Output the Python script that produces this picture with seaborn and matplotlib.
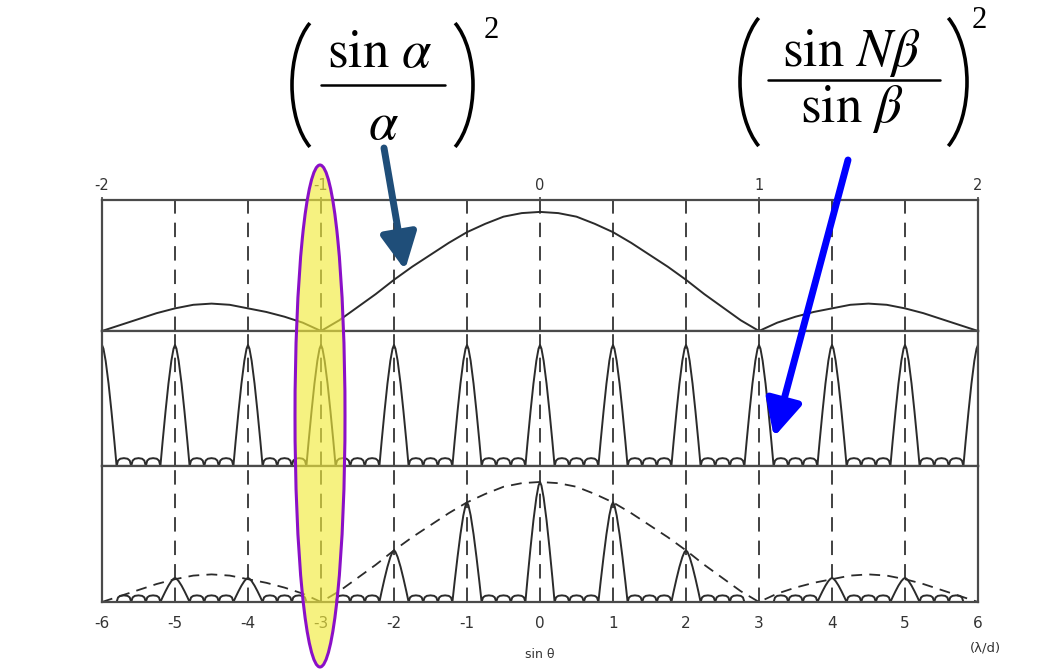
import seaborn as sns
import matplotlib.pyplot as plt
from matplotlib.patches import Ellipse, Arc
from matplotlib.lines import Line2D
from matplotlib.transforms import IdentityTransform

# principal maxima positions, units of lambda/d
orders = [-6, -5, -4, -3, -2, -1, 0, 1, 2, 3, 4, 5, 6]

# single slit envelope
env_x = [-6, -5.75, -5.5, -5.25, -5, -4.75, -4.5, -4.25, -4, -3.75, -3.5, -3.25,
         -3, -2.75, -2.5, -2.25, -2, -1.75, -1.5, -1.25, -1, -0.75, -0.5, -0.25,
         0, 0.25, 0.5, 0.75, 1, 1.25, 1.5, 1.75, 2, 2.25, 2.5, 2.75,
         3, 3.25, 3.5, 3.75, 4, 4.25, 4.5, 4.75, 5, 5.25, 5.5, 5.75, 6]
env_y = [0, 0.05, 0.1, 0.15, 0.19, 0.22, 0.23, 0.22, 0.19, 0.16, 0.12, 0.07,
         0, 0.09, 0.2, 0.31, 0.43, 0.54, 0.64, 0.74, 0.83, 0.9, 0.96, 0.99,
         1.0, 0.99, 0.96, 0.9, 0.83, 0.74, 0.64, 0.54, 0.43, 0.31, 0.2, 0.09,
         0, 0.07, 0.12, 0.16, 0.19, 0.22, 0.23, 0.22, 0.19, 0.15, 0.1, 0.05, 0]

# shape of one principal peak of the grating term
peak_dx = [-0.2, -0.17, -0.13, -0.09, -0.05, -0.02, 0,
           0.02, 0.05, 0.09, 0.13, 0.17, 0.2]
peak_h = [0, 0.2, 0.45, 0.68, 0.87, 0.97, 1.0,
          0.97, 0.87, 0.68, 0.45, 0.2, 0]

# one small secondary lobe (three between each pair of peaks)
lobe_starts = [0.2, 0.4, 0.6]
lobe_dx = [0, 0.02, 0.05, 0.1, 0.15, 0.18, 0.2]
lobe_h = [0, 0.045, 0.06, 0.065, 0.06, 0.045, 0]

# peak heights in the product panel
prod_peaks = [0, 0.2, 0.2, 0, 0.43, 0.83, 1.0, 0.83, 0.43, 0, 0.2, 0.2, 0]

top_ticks = [-6, -3, 0, 3, 6]
top_labels = ["-2", "-1", "0", "1", "2"]


def pattern(heights, lobe_scale):
    xs, ys = [], []
    for k, hk in zip(orders, heights):
        for dx, h in zip(peak_dx, peak_h):
            x = k + dx
            if -6 <= x <= 6:
                xs.append(x)
                ys.append(h * hk)
        if k < 6:
            for s in lobe_starts:
                for dx, h in zip(lobe_dx, lobe_h):
                    xs.append(k + s + dx)
                    ys.append(h * lobe_scale)
    return xs, ys


W, H = 1055, 669


def fx(x, y):
    # reference pixel (top-left origin) -> figure fraction
    return x / W, 1 - y / H


sns.set_style("white")
plt.rcParams["mathtext.fontset"] = "stix"

fig = plt.figure(figsize=(10.55, 6.69), dpi=100)
left, width = 102 / W, 876 / W
ax_top = fig.add_axes([left, 338 / H, width, 131 / H])
ax_mid = fig.add_axes([left, 203 / H, width, 135 / H])
ax_bot = fig.add_axes([left, 67 / H, width, 136 / H])

line_c = "#2b2b2b"
frame_c = "#4a4a4a"

sns.lineplot(x=env_x, y=env_y, ax=ax_top, color=line_c, lw=1.4,
             sort=False, estimator=None)

mx, my = pattern([1.0] * len(orders), 1.0)
sns.lineplot(x=mx, y=my, ax=ax_mid, color=line_c, lw=1.4,
             sort=False, estimator=None)

px, py = pattern(prod_peaks, 0.85)
sns.lineplot(x=px, y=py, ax=ax_bot, color=line_c, lw=1.4,
             sort=False, estimator=None)
sns.lineplot(x=env_x, y=env_y, ax=ax_bot, color=line_c, lw=1.3,
             sort=False, estimator=None, linestyle=(0, (6, 4)))

ylims = [1.10, 1.116, 1.133]
for ax, top in zip([ax_top, ax_mid, ax_bot], ylims):
    ax.set_xlim(-6, 6)
    ax.set_ylim(0, top)
    for k in orders[1:-1]:
        ax.axvline(k, color="#333333", lw=1.3, linestyle=(0, (8, 5)), zorder=0)
    for sp in ax.spines.values():
        sp.set_color(frame_c)
        sp.set_linewidth(1.6)
    ax.set_yticks([])
    ax.set_xticks([])
    ax.set_xlabel("")
    ax.set_ylabel("")

ax_top.xaxis.tick_top()
ax_top.set_xticks(top_ticks)
ax_top.set_xticklabels(top_labels, fontsize=10.5, color="#333333")
ax_top.tick_params(axis="x", length=4, width=1.2, color=frame_c, pad=3,
                   direction="inout")

ax_bot.set_xticks(orders)
ax_bot.set_xticklabels([str(o) for o in orders], fontsize=11, color="#333333")
ax_bot.tick_params(axis="x", length=0, pad=10)

fig.text(*fx(540, 655), "sin θ", ha="center", va="center",
         fontsize=9, color="#333333")
fig.text(*fx(985, 648), "(λ/d)", ha="center", va="center",
         fontsize=9.5, color="#333333")

# formula (sin a / a)^2
fs = 38
fig.text(*fx(380, 52), r"$\mathrm{sin}\ \alpha$", ha="center", va="center",
         fontsize=fs, color="black")
fig.text(*fx(383, 124), r"$\alpha$", ha="center", va="center",
         fontsize=fs, color="black")
fig.add_artist(Line2D([321 / W, 445 / W], [1 - 85 / H] * 2, color="black", lw=1.8))
fig.text(*fx(491, 30), "2", ha="center", va="center", fontsize=22,
         family="Liberation Serif", color="black")

# formula (sin N b / sin b)^2
fig.text(*fx(851, 53), r"$\mathrm{sin}\ N\beta$", ha="center", va="center",
         fontsize=fs, color="black")
fig.text(*fx(852, 109), r"$\mathrm{sin}\ \beta$", ha="center", va="center",
         fontsize=fs, color="black")
fig.add_artist(Line2D([768 / W, 940 / W], [1 - 80 / H] * 2, color="black", lw=1.8))
fig.text(*fx(979, 21), "2", ha="center", va="center", fontsize=22,
         family="Liberation Serif", color="black")

# big brackets drawn as arcs (pixel coords)
for cx, cy, a, b, t1, t2 in [(330, 85, 38, 73, 108, 252), (435, 85, 38, 73, -72, 72),
                             (782, 82, 42, 77, 110, 250), (925, 82, 42, 77, -70, 70)]:
    fig.add_artist(Arc((cx, H - cy), 2 * a, 2 * b, theta1=t1, theta2=t2,
                       transform=IdentityTransform(), color="black", lw=2.6))

# arrows
fig.add_artist(plt.Annotation(
    "", xy=fx(405, 270), xytext=fx(384, 148),
    xycoords="figure fraction", textcoords="figure fraction",
    arrowprops=dict(arrowstyle="-|>,head_width=0.5,head_length=1.0",
                    color="#1f4e79", lw=5, mutation_scale=22,
                    shrinkA=0, shrinkB=0)))
fig.add_artist(plt.Annotation(
    "", xy=fx(774, 437), xytext=fx(848, 160),
    xycoords="figure fraction", textcoords="figure fraction",
    arrowprops=dict(arrowstyle="-|>,head_width=0.5,head_length=1.0",
                    color="#0000ff", lw=5, mutation_scale=22,
                    shrinkA=0, shrinkB=0)))

# highlight of the missing order
fig.add_artist(Ellipse(fx(320, 416), 50 / W, 502 / H,
                       facecolor=(0.95, 0.92, 0.24, 0.65),
                       edgecolor="#8a10c8", lw=2.2, zorder=5))

fig.savefig("out.png", dpi=100)
